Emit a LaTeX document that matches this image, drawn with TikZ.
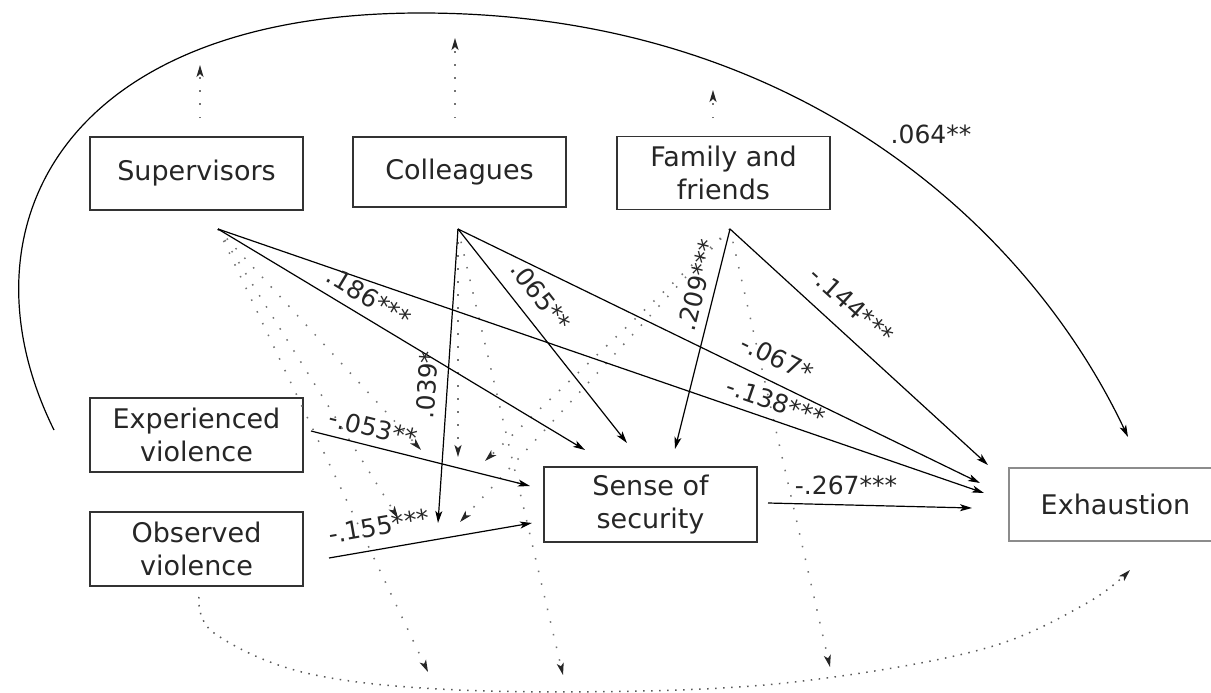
\documentclass[tikz,border=0pt]{standalone}
\usepackage{fontspec}
\setmainfont{DejaVu Sans}
\usetikzlibrary{arrows.meta}
\begin{document}
\begin{tikzpicture}[x=1pt,y=-1pt,
  box/.style={draw=black!80, line width=1.1pt, minimum width=213pt, minimum height=73pt,
    inner sep=0pt, align=center, text=black!85, font=\fontsize{27}{33}\selectfont},
  sig/.style={line width=1.2pt, -{Stealth[length=12pt,width=7pt,inset=3pt]}},
  ns/.style={draw=black!55, line width=1.5pt, dash pattern=on 1.5pt off 11.5pt,
    -{Stealth[length=12pt,width=7pt,inset=3pt,color=black!85]}},
  nsb/.style={draw=black!65, line width=1.5pt, dash pattern=on 1.5pt off 6.5pt,
    -{Stealth[length=12pt,width=7pt,inset=3pt,color=black!85]}},
  lab/.style={font=\fontsize{25}{30}\selectfont, inner sep=0pt, text=black!85}]
\useasboundingbox (0,0) rectangle (1211,693);
\fill[white] (0,0) rectangle (1211,693);

% boxes
\node[box] (sup) at (196.5,173.5) {Supervisors};
\node[box, minimum height=70pt] (col) at (459.5,172) {Colleagues};
\node[box] (fam) at (723.5,173) {Family and\\friends};
\node[box, minimum height=74pt] (exp) at (196.5,435) {Experienced\\violence};
\node[box, minimum height=74pt] (obs) at (196.5,549) {Observed\\violence};
\node[box, minimum height=75pt] (sen) at (650.5,504.5) {Sense of\\security};
\node[box, minimum height=73pt, draw=black!45] (exh) at (1115.5,504.5) {Exhaustion};

% sources and ends
\coordinate (S) at (218,229);
\coordinate (C) at (458,229);
\coordinate (F) at (730,229);
\coordinate (expO) at (311,431);
\coordinate (obsO) at (329,558);
\coordinate (senO) at (768,503);
\coordinate (senS) at (585,450);
\coordinate (senC) at (627,443);
\coordinate (senF) at (675,449);
\coordinate (senE) at (530,486);
\coordinate (senB) at (532,523);
\coordinate (exS) at (984,493);
\coordinate (exC) at (980,483);
\coordinate (exF) at (988,465);
\coordinate (exN) at (972,508);
\coordinate (mES) at (421,450);
\coordinate (mEC) at (458,457);
\coordinate (mEF) at (485,461);
\coordinate (mOS) at (398,518);
\coordinate (mOC) at (438,523);
\coordinate (mOF) at (460,522);
\coordinate (bS) at (428,672);
\coordinate (bC) at (563,675);
\coordinate (bF) at (830,667);
\coordinate (uS0) at (200,118);
\coordinate (uS1) at (200,65);
\coordinate (uC0) at (455,118);
\coordinate (uC1) at (455,38);
\coordinate (uF0) at (713,118);
\coordinate (uF1) at (713,90);
\coordinate (arcA) at (54,430);
\coordinate (arcM) at (421,13);
\coordinate (arcB) at (1128,437);
\coordinate (botA) at (199,597);
\coordinate (botB) at (1130,570);

% non-significant (dotted)
\draw[ns] (uS0) -- (uS1);
\draw[ns] (uC0) -- (uC1);
\draw[ns] (uF0) -- (uF1);
\draw[ns] (S) -- (mES);
\draw[ns] (S) -- (mOS);
\draw[ns] (S) -- (bS);
\draw[ns] (C) -- (mEC);
\draw[ns] (C) -- (bC);
\draw[ns] (F) -- (mEF);
\draw[ns] (F) -- (mOF);
\draw[ns] (F) -- (bF);
\draw[nsb] plot[smooth, tension=0.6] coordinates {(botA) (214,633) (306,673) (459,690) (678,690) (834,677) (990,647) (1087,603) (botB)};

% significant paths
\draw[sig] (arcA) .. controls (-45,230) and (60,13) .. (arcM)
                  .. controls (800,13) and (1030,230) .. (arcB);
\draw[sig] (S) -- (senS);
\draw[sig] (S) -- (exS);
\draw[sig] (C) -- (senC);
\draw[sig] (C) -- (exC);
\draw[sig] (C) -- (mOC);
\draw[sig] (F) -- (senF);
\draw[sig] (F) -- (exF);
\draw[sig] (expO) -- (senE);
\draw[sig] (obsO) -- (senB);
\draw[sig] (senO) -- (exN);

% labels
\node[lab] (l064) at (931,134) {.064**};
\node[lab, rotate=-31] (l186) at (369,297) {.186***};
\node[lab, rotate=-52] (l065) at (541,296) {.065**};
\node[lab, rotate=-26] (l067) at (777,358) {-.067*};
\node[lab, rotate=-19] (l138) at (776,402) {-.138***};
\node[lab, rotate=76] (l209) at (697,285) {.209***};
\node[lab, rotate=-42] (l144) at (852,305) {-.144***};
\node[lab, rotate=86] (l039) at (427,385) {.039*};
\node[lab, rotate=-14] (l053) at (373,428) {-.053**};
\node[lab, rotate=10] (l155) at (379,526) {-.155***};
\node[lab] (l267) at (846,485) {-.267***};
\end{tikzpicture}
\end{document}
